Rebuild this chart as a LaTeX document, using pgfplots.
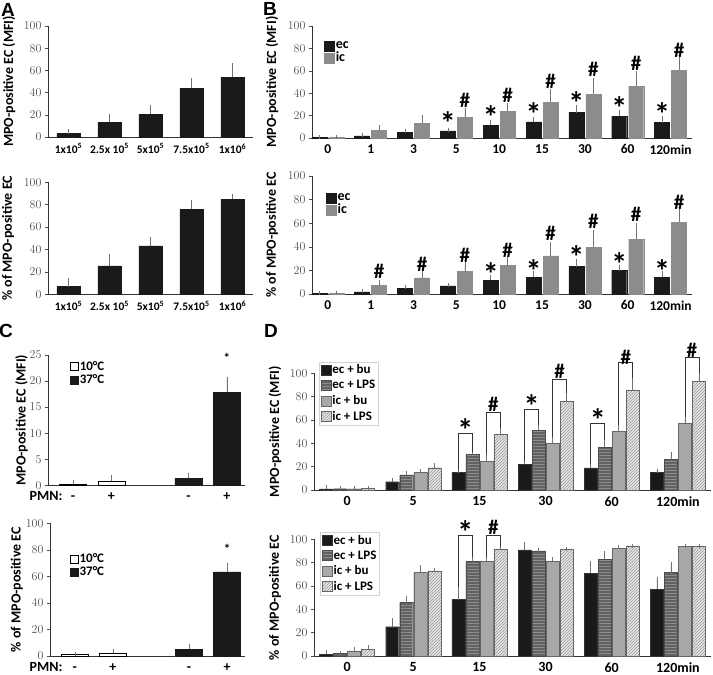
\documentclass[border=0pt]{standalone}
\usepackage{fontspec}
\setmainfont{Carlito}
\newfontfamily\arialf{Liberation Sans}
\usepackage{pgfplots}
\pgfplotsset{compat=1.18}
\usetikzlibrary{patterns}

\definecolor{ecblack}{HTML}{1A1A1A}
\definecolor{icgray}{HTML}{8C8C8C}
\definecolor{lpsdark}{HTML}{626262}
\definecolor{bulight}{HTML}{A8A8A8}
\definecolor{lpslight}{HTML}{E6E6E6}
\definecolor{tickgray}{HTML}{505050}

\pgfplotsset{
  panel/.style={
    scale only axis, anchor=south west, clip=false,
    axis x line*=bottom, axis y line*=left,
    axis line style={black!80, line width=0.7pt},
    tick align=outside, major tick length=3pt,
    xtick style={draw=none},
    ytick style={black!70, line width=0.5pt},
    ymin=0,
    yticklabel style={font=\arialf\fontsize{11.5}{12}\selectfont, text=tickgray},
    xticklabel style={font=\bfseries\fontsize{11.5}{12}\selectfont},
    ylabel style={font=\bfseries\fontsize{14}{15}\selectfont, anchor=center},
    error bars/y dir=plus, error bars/y explicit,
    error bars/error bar style={line width=0.5pt, black!55},
    error bars/error mark options={line width=0.5pt, black!55, mark size=2pt},
    legend cell align=left,
  },
  ylab/.style={ylabel style={at={(axis description cs:#1,0.5)}}},
  sq/.style={legend image code/.code={\draw[##1] (0pt,-5pt) rectangle (10pt,5pt);}},
  sqs/.style={legend image code/.code={\draw[##1] (0pt,-4pt) rectangle (8pt,4pt);}},
  calt/.style={yticklabel style={font=\fontsize{12}{12}\selectfont, text=tickgray}},
}
\tikzset{
  hsh/.style={font=\bfseries\fontsize{21}{21}\selectfont, inner sep=0pt},
  star/.style={font=\bfseries\fontsize{32}{32}\selectfont, inner sep=0pt, yshift=-4.5pt},
  brk/.style={black!80, line width=0.6pt},
  letter/.style={font=\arialf\bfseries\fontsize{19}{19}\selectfont, inner sep=0pt},
}

\begin{document}
\begin{tikzpicture}
\useasboundingbox (0,0) rectangle (713pt,675pt);

% ---------- A top
\begin{axis}[panel, at={(48pt,538pt)}, width=205pt, height=111pt,
  xmin=-0.5, xmax=4.5, ymax=100, ytick={0,20,...,100},
  xtick={0,...,4},
  xticklabels={1x10\textsuperscript{5},2.5x 10\textsuperscript{5},5x10\textsuperscript{5},7.5x10\textsuperscript{5},1x10\textsuperscript{6}},
  ybar, bar width=23pt, ylabel={MPO-positive EC (MFI)}, ylab=-0.19]
\addplot[fill=ecblack, draw=ecblack] coordinates {
  (0,3) +- (0,2.4) (1,13.2) +- (0,6) (2,20.4) +- (0,6.3) (3,43.8) +- (0,7.2) (4,53.8) +- (0,10.8)};
\end{axis}

% ---------- A bottom
\begin{axis}[panel, at={(48pt,380.7pt)}, width=205pt, height=112pt,
  xmin=-0.5, xmax=4.5, ymax=100, ytick={0,20,...,100},
  xtick={0,...,4},
  xticklabels={1x10\textsuperscript{5},2.5x 10\textsuperscript{5},5x10\textsuperscript{5},7.5x10\textsuperscript{5},1x10\textsuperscript{6}},
  ybar, bar width=23pt, ylabel={\% of MPO-positive EC}, ylab=-0.195]
\addplot[fill=ecblack, draw=ecblack] coordinates {
  (0,6.8) +- (0,6) (1,25.3) +- (0,8.9) (2,43.2) +- (0,6.2) (3,75.9) +- (0,6.2) (4,84.8) +- (0,3.3)};
\end{axis}

% ---------- B top
\begin{axis}[panel, at={(312pt,537pt)}, width=380pt, height=112pt,
  xmin=-0.37, xmax=8.5, ymax=100, ytick={0,20,...,100},
  xtick={0,...,8}, xticklabels={0,1,3,5,10,15,30,60,120min},
  xticklabel style={font=\bfseries\fontsize{13.5}{14}\selectfont},
  ybar=2pt, bar width=15pt, ylabel={MPO-positive EC (MFI)}, ylab=-0.105,
  legend style={at={(axis description cs:0.032,0.87)}, anchor=north west, draw=none, fill=none,
    font=\bfseries\fontsize{14}{14}\selectfont, row sep=0pt, inner sep=0pt, nodes={inner sep=1pt}}]
\addplot[fill=ecblack, draw=ecblack, sq] coordinates {
  (0,0.3) +- (0,0.3) (1,1.8) +- (0,0.6) (2,4.8) +- (0,1.5) (3,6.3) +- (0,1.2) (4,11.3) +- (0,2.7)
  (5,14.3) +- (0,2.7) (6,22.7) +- (0,5.1) (7,19.4) +- (0,3.6) (8,13.7) +- (0,3.9)};
\addplot[fill=icgray, draw=icgray, sq] coordinates {
  (0,0.8) +- (0,0.4) (1,6.9) +- (0,3.2) (2,13.1) +- (0,5.4) (3,18.5) +- (0,6.9) (4,23.9) +- (0,5.7)
  (5,31.9) +- (0,9.9) (6,39.1) +- (0,12.5) (7,46.3) +- (0,11.3) (8,60.6) +- (0,10.1)};
\legend{ec,ic}
\node[star] at (axis cs:2.802,17.6) {*};
\node[star] at (axis cs:3.802,22.7) {*};
\node[star] at (axis cs:4.802,25.7) {*};
\node[star] at (axis cs:5.802,35.5) {*};
\node[star] at (axis cs:6.802,31) {*};
\node[star] at (axis cs:7.802,25) {*};
\node[hsh] at (axis cs:3.198,34) {\#};
\node[hsh] at (axis cs:4.198,38.5) {\#};
\node[hsh] at (axis cs:5.198,50.4) {\#};
\node[hsh] at (axis cs:6.198,61) {\#};
\node[hsh] at (axis cs:7.198,67) {\#};
\node[hsh] at (axis cs:8.198,78) {\#};
\end{axis}

% ---------- B bottom
\begin{axis}[panel, at={(312pt,381pt)}, width=380pt, height=118pt,
  xmin=-0.37, xmax=8.5, ymax=100, ytick={0,20,...,100},
  xtick={0,...,8}, xticklabels={0,1,3,5,10,15,30,60,120min},
  xticklabel style={font=\bfseries\fontsize{13.5}{14}\selectfont},
  ybar=2pt, bar width=15pt, ylabel={\% of MPO-positive EC}, ylab=-0.105,
  legend style={at={(axis description cs:0.037,0.86)}, anchor=north west, draw=none, fill=none,
    font=\bfseries\fontsize{14}{14}\selectfont, row sep=0pt, inner sep=0pt, nodes={inner sep=1pt}}]
\addplot[fill=ecblack, draw=ecblack, sq] coordinates {
  (0,0.3) +- (0,0.3) (1,1.7) +- (0,0.5) (2,4.5) +- (0,1.7) (3,6.8) +- (0,0.5) (4,11.6) +- (0,3.1)
  (5,14.4) +- (0,3.6) (6,23.2) +- (0,4.5) (7,19.8) +- (0,3.4) (8,14.1) +- (0,3.4)};
\addplot[fill=icgray, draw=icgray, sq] coordinates {
  (0,0.8) +- (0,0.4) (1,7.3) +- (0,3.2) (2,13.6) +- (0,5.3) (3,19.2) +- (0,5.9) (4,24) +- (0,6.2)
  (5,32.2) +- (0,10.2) (6,39.5) +- (0,12.8) (7,46.6) +- (0,11.9) (8,61) +- (0,10.2)};
\legend{ec,ic}
\node[star] at (axis cs:3.802,21) {*};
\node[star] at (axis cs:4.802,23) {*};
\node[star] at (axis cs:5.802,35) {*};
\node[star] at (axis cs:6.802,29.4) {*};
\node[star] at (axis cs:7.802,23.2) {*};
\node[hsh] at (axis cs:1.198,19) {\#};
\node[hsh] at (axis cs:2.198,25.4) {\#};
\node[hsh] at (axis cs:3.198,33) {\#};
\node[hsh] at (axis cs:4.198,37.3) {\#};
\node[hsh] at (axis cs:5.198,51.4) {\#};
\node[hsh] at (axis cs:6.198,61.3) {\#};
\node[hsh] at (axis cs:7.198,67.5) {\#};
\node[hsh] at (axis cs:8.198,78) {\#};
\end{axis}

% ---------- C top
\begin{axis}[panel, calt, at={(48pt,189.7pt)}, width=197pt, height=130.3pt,
  xmin=-0.65, xmax=4.47, ymax=25, ytick={0,5,...,25},
  xtick={0,1,3,4}, xticklabels={-,+,-,+},
  xticklabel style={font=\bfseries\fontsize{14}{14}\selectfont, text height=9pt, text depth=2pt},
  ybar, bar width=27pt, ylabel={MPO-positive EC (MFI)}, ylab=-0.135,
  legend style={at={(axis description cs:0.11,0.965)}, anchor=north west, draw=none, fill=none,
    font=\bfseries\fontsize{13}{13}\selectfont, row sep=0pt, inner sep=0pt, nodes={inner sep=1.5pt}}]
\addplot[fill=white, draw=black, bar shift=0pt, sqs] coordinates {
  (0,0.26) +- (0,0.34) (1,0.85) +- (0,0.7)};
\addplot[fill=ecblack, draw=ecblack, bar shift=0pt, sqs] coordinates {
  (3,1.35) +- (0,0.55) (4,17.9) +- (0,2.4)};
\legend{10°C,37°C}
\node[font=\bfseries\fontsize{13}{13}\selectfont, inner sep=0pt] at (axis cs:4,24.4) {*};
\node[anchor=north, font=\bfseries\fontsize{14}{14}\selectfont, text height=9pt, text depth=2pt]
  at (axis description cs:-0.01,0) [yshift=-3pt] {PMN:};
\end{axis}

% ---------- C bottom
\begin{axis}[panel, calt, at={(50pt,19pt)}, width=195pt, height=132.7pt,
  xmin=-0.65, xmax=4.47, ymax=100, ytick={0,20,...,100},
  xtick={0,1,3,4}, xticklabels={-,+,-,+},
  xticklabel style={font=\bfseries\fontsize{14}{14}\selectfont, text height=9pt, text depth=2pt},
  ybar, bar width=27pt, ylabel={\% of MPO-positive EC}, ylab=-0.17,
  legend style={at={(axis description cs:0.10,0.785)}, anchor=north west, draw=none, fill=none,
    font=\bfseries\fontsize{13}{13}\selectfont, row sep=0pt, inner sep=0pt, nodes={inner sep=1.5pt}}]
\addplot[fill=white, draw=black, bar shift=0pt, sqs] coordinates {
  (0,1) +- (0,0.8) (1,2) +- (0,1.8)};
\addplot[fill=ecblack, draw=ecblack, bar shift=0pt, sqs] coordinates {
  (3,5) +- (0,2.3) (4,63.3) +- (0,5.3)};
\legend{10°C,37°C}
\node[font=\bfseries\fontsize{13}{13}\selectfont, inner sep=0pt] at (axis cs:4,81) {*};
\node[anchor=north, font=\bfseries\fontsize{14}{14}\selectfont, text height=9pt, text depth=2pt]
  at (axis description cs:-0.02,0) [yshift=-3pt] {PMN:};
\end{axis}

% ---------- D top
\begin{axis}[panel, calt, at={(314pt,185pt)}, width=397pt, height=116.7pt,
  xmin=-0.5, xmax=5.5, ymax=100, ytick={0,20,...,100},
  xtick={0,...,5}, xticklabels={0,5,15,30,60,120min},
  xticklabel style={font=\bfseries\fontsize{14}{14}\selectfont},
  ybar=1pt, bar width=13pt, ylabel={MPO-positive EC (MFI)}, ylab=-0.098,
  legend style={at={(axis description cs:0.012,1.10)}, anchor=north west, draw=gray!35, fill=white,
    font=\bfseries\fontsize{13}{14}\selectfont, row sep=3pt, inner sep=2pt, nodes={inner sep=1pt}}]
\addplot[fill=ecblack, draw=black!80, sq] coordinates {
  (0,0.9) +- (0,2.0) (1,7.1) +- (0,1.5) (2,14.9) +- (0,1.4) (3,22) +- (0,1.7) (4,18.9) +- (0,2.0) (5,15.1) +- (0,1.5)};
\addplot[fill=lpsdark, draw=black!70, postaction={pattern=horizontal lines, pattern color=black!45}, sq] coordinates {
  (0,1.1) +- (0,0.3) (1,12.9) +- (0,1.4) (2,30.6) +- (0,1.1) (3,50.9) +- (0,3.4) (4,36.6) +- (0,5.1) (5,26) +- (0,4.9)};
\addplot[fill=bulight, draw=black!60, sq] coordinates {
  (0,1.1) +- (0,0.9) (1,15.1) +- (0,1.5) (2,24.3) +- (0,4.6) (3,40) +- (0,4) (4,50) +- (0,4.9) (5,57.1) +- (0,4)};
\addplot[fill=lpslight, draw=black!60, postaction={pattern=north east lines, pattern color=black!40}, sq] coordinates {
  (0,1.7) +- (0,0.4) (1,19.1) +- (0,2) (2,47.7) +- (0,4) (3,75.7) +- (0,6.3) (4,85.7) +- (0,8.9) (5,92.9) +- (0,5.1)};
\legend{ec + bu,ec + LPS,ic + bu,ic + LPS}
\draw[brk] (axis cs:1.682,17.5) |- (axis cs:1.894,48.6) -- (axis cs:1.894,32.5);
\node[star] at (axis cs:1.788,55) {*};
\draw[brk] (axis cs:2.106,30.5) |- (axis cs:2.318,67) -- (axis cs:2.318,53);
\node[hsh] at (axis cs:2.212,73) {\#};
\draw[brk] (axis cs:2.682,25) |- (axis cs:2.894,69) -- (axis cs:2.894,56);
\node[star] at (axis cs:2.788,75.7) {*};
\draw[brk] (axis cs:3.106,45) |- (axis cs:3.318,95) -- (axis cs:3.318,83.5);
\node[hsh] at (axis cs:3.212,102) {\#};
\draw[brk] (axis cs:3.682,22) |- (axis cs:3.894,57) -- (axis cs:3.894,43);
\node[star] at (axis cs:3.788,63.4) {*};
\draw[brk] (axis cs:4.106,56) |- (axis cs:4.318,109) -- (axis cs:4.318,96);
\node[hsh] at (axis cs:4.212,114) {\#};
\draw[brk] (axis cs:5.106,62.5) |- (axis cs:5.318,114) -- (axis cs:5.318,99);
\node[hsh] at (axis cs:5.212,120) {\#};
\end{axis}

% ---------- D bottom
\begin{axis}[panel, calt, at={(314pt,19pt)}, width=397pt, height=116.7pt,
  xmin=-0.5, xmax=5.5, ymax=100, ytick={0,20,...,100},
  xtick={0,...,5}, xticklabels={0,5,15,30,60,120min},
  xticklabel style={font=\bfseries\fontsize{14}{14}\selectfont},
  ybar=1pt, bar width=13pt, ylabel={\% of MPO-positive EC}, ylab=-0.098,
  legend style={at={(axis description cs:0.015,1.065)}, anchor=north west, draw=gray!35, fill=white,
    font=\bfseries\fontsize{13}{14}\selectfont, row sep=3pt, inner sep=2pt, nodes={inner sep=1pt}}]
\addplot[fill=ecblack, draw=black!80, sq] coordinates {
  (0,1.7) +- (0,2) (1,25.1) +- (0,5.8) (2,48.3) +- (0,9.1) (3,90.9) +- (0,4.8) (4,70.9) +- (0,8.5) (5,57.4) +- (0,8.6)};
\addplot[fill=lpsdark, draw=black!70, postaction={pattern=horizontal lines, pattern color=black!45}, sq] coordinates {
  (0,2) +- (0,0.9) (1,45.7) +- (0,4.3) (2,80.9) +- (0,2.8) (3,90) +- (0,0.9) (4,82.9) +- (0,5.7) (5,71.4) +- (0,7.5)};
\addplot[fill=bulight, draw=black!60, sq] coordinates {
  (0,4.3) +- (0,1.7) (1,71.4) +- (0,4.6) (2,81.4) +- (0,1.5) (3,81.4) +- (0,1.5) (4,92.3) +- (0,1.4) (5,93.7) +- (0,0.6)};
\addplot[fill=lpslight, draw=black!60, postaction={pattern=north east lines, pattern color=black!40}, sq] coordinates {
  (0,5.7) +- (0,1.7) (1,72.9) +- (0,0.5) (2,91.7) +- (0,0.6) (3,91.1) +- (0,0.6) (4,94.3) +- (0,0) (5,94.3) +- (0,0)};
\legend{ec + bu,ec + LPS,ic + bu,ic + LPS}
\draw[brk] (axis cs:1.682,59) |- (axis cs:1.894,103) -- (axis cs:1.894,85);
\node[star] at (axis cs:1.788,110) {*};
\draw[brk] (axis cs:2.106,85) |- (axis cs:2.318,103) -- (axis cs:2.318,93.5);
\node[hsh] at (axis cs:2.212,110) {\#};
\end{axis}

\node[letter] at (8pt,665pt) {A};
\node[letter] at (270pt,666pt) {B};
\node[letter] at (6pt,344pt) {C};
\node[letter] at (271pt,344pt) {D};
\end{tikzpicture}
\end{document}
